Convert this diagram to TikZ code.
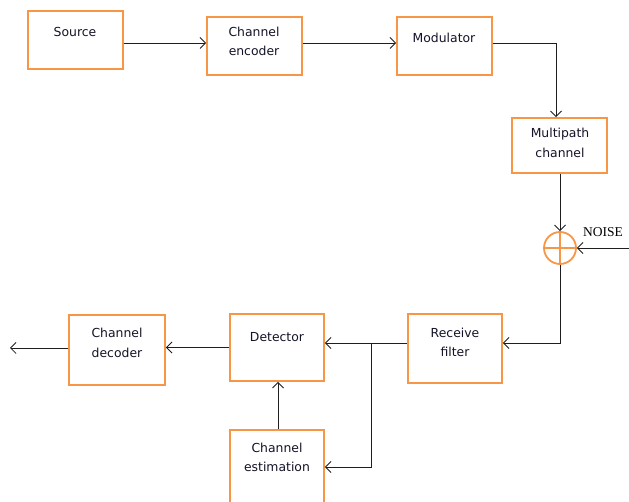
\documentclass[tikz,border=0pt]{standalone}
\usepackage{fontspec}
\setmainfont{DejaVu Sans}
\newfontfamily\noisefont{Liberation Serif}
\usetikzlibrary{arrows.meta}
\definecolor{boxor}{RGB}{247,150,70}
\definecolor{ln}{RGB}{30,30,30}
\definecolor{tx}{RGB}{20,20,40}
\begin{document}
\begin{tikzpicture}[x=1pt,y=-1pt,
  blk/.style={draw=boxor, line width=1.8pt, fill=white, inner sep=0pt},
  txt/.style={text=tx, align=center, inner sep=0pt, font=\fontsize{12.4}{19.5}\selectfont},
  conn/.style={draw=ln, line width=0.85pt},
  arr/.style={conn, -{Straight Barb[length=5.5pt,width=11pt,line width=0.85pt]}}]
\useasboundingbox (0,0) rectangle (629,502);
% boxes
\node[blk, minimum width=95pt, minimum height=58pt] (src) at (75.5,40) {};
\node[blk, minimum width=95pt, minimum height=58pt] (enc) at (254.5,46) {};
\node[blk, minimum width=95pt, minimum height=58pt] (mod) at (444.5,46) {};
\node[blk, minimum width=95pt, minimum height=55pt] (mp) at (559.5,145.5) {};
\node[blk, minimum width=94pt, minimum height=69pt] (rf) at (455,348.5) {};
\node[blk, minimum width=94pt, minimum height=67pt] (det) at (277,347.5) {};
\node[blk, minimum width=96pt, minimum height=70pt] (dec) at (117,350) {};
\node[blk, minimum width=94pt, minimum height=76pt] (est) at (277,468) {};
\node[circle, draw=boxor, line width=1.8pt, minimum size=32pt, inner sep=0pt] (sum) at (560,248) {};
\draw[draw=boxor, line width=1.8pt] (sum.north) -- (sum.south) (sum.west) -- (sum.east);
% texts
\node[txt, anchor=base] (srct) at (75,37) {Source};
\node[txt] (enct) at (254,41.5) {Channel\\encoder};
\node[txt, anchor=base] (modt) at (444,43) {Modulator};
\node[txt] (mpt) at (560,143) {Multipath\\channel};
\node[txt] (rft) at (455,342.5) {Receive\\filter};
\node[txt, anchor=base] (dett) at (277,342) {Detector};
\node[txt] (dect) at (117,343) {Channel\\decoder};
\node[txt] (estt) at (277,457.5) {Channel\\estimation};
\node[text=black, inner sep=0pt, font=\noisefont\fontsize{13.5}{15}\selectfont] (noise) at (603,232) {NOISE};
% connectors
\coordinate (noisein) at (629,248);
\coordinate (br) at (371,343);
\coordinate (out) at (10,348);
\draw[arr] ([yshift=-3pt]src.east) -- ([yshift=-3pt]src.east -| enc.west);
\draw[arr] ([yshift=3pt]enc.east) -- ([yshift=3pt]enc.east -| mod.west);
\draw[arr] ([yshift=3pt]mod.east) -| ([xshift=-3.5pt]mp.north);
\draw[arr] (sum.north |- mp.south) -- (sum.north);
\draw[arr] (noisein) -- (sum.east);
\draw[arr] (sum.south) |- ([yshift=5.5pt]rf.east);
\draw[conn] (rf.west |- br) -- (br);
\draw[arr] (br) -- (br -| det.east);
\draw[arr] (br) |- (est.east |- 0,467);
\draw[arr] (est.north -| 278,0) -- (det.south -| 278,0);
\draw[arr] (det.west) -- (det.west -| dec.east);
\draw[arr] (out -| dec.west) -- (out);
\end{tikzpicture}
\end{document}
